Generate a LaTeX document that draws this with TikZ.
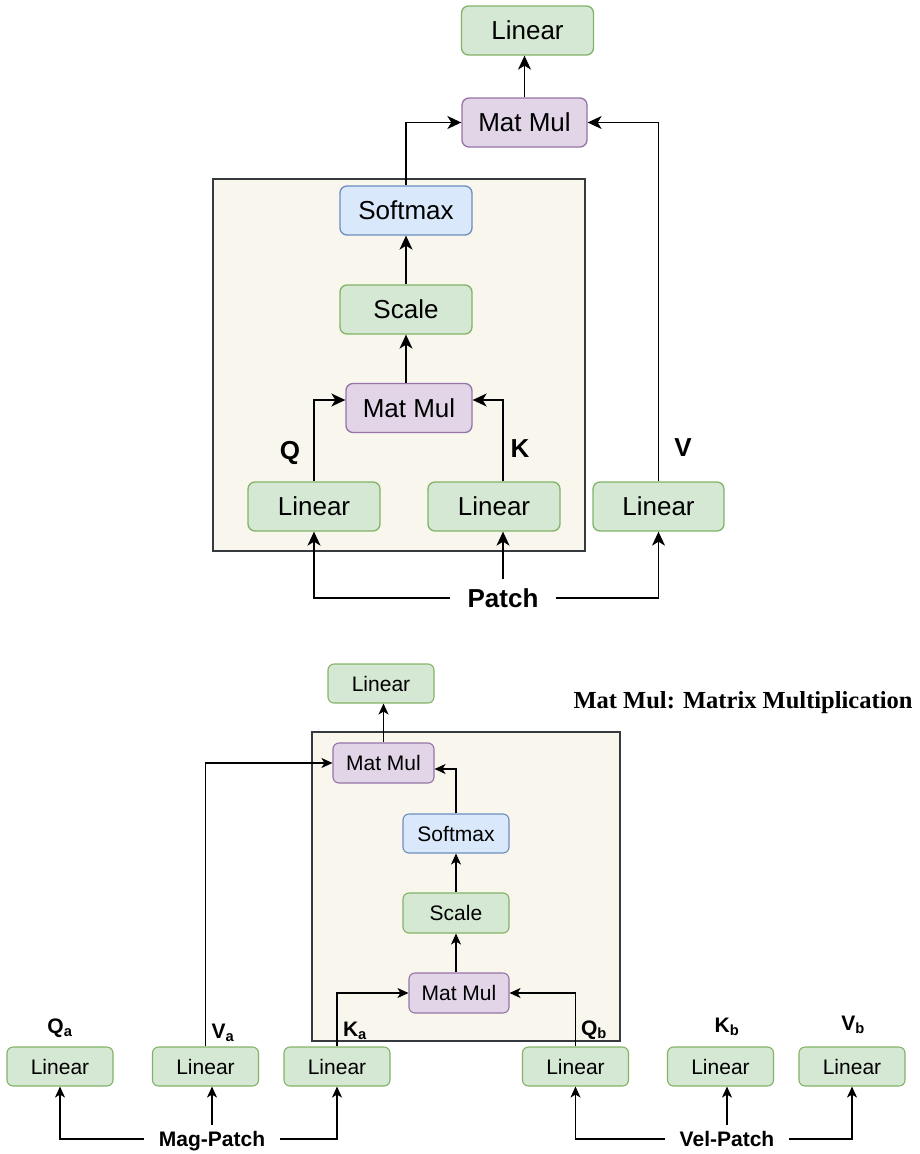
\documentclass[tikz,border=0pt]{standalone}
\usepackage{fontspec}
\setmainfont{Liberation Sans}
\newfontfamily\titlefont{Liberation Serif}
\usetikzlibrary{arrows.meta, calc}

\definecolor{linfill}{HTML}{D5E8D4}
\definecolor{linline}{HTML}{82B366}
\definecolor{mulfill}{HTML}{E1D5E7}
\definecolor{mulline}{HTML}{9673A6}
\definecolor{softfill}{HTML}{DAE8FC}
\definecolor{softline}{HTML}{6C8EBF}
\definecolor{boxfill}{HTML}{F9F7ED}
\definecolor{boxline}{HTML}{36393D}

\begin{document}
\begin{tikzpicture}[
    x=1pt, y=-1pt,
    bigblock/.style={draw, rounded corners=7pt, line width=1.3pt, minimum width=132pt,
        minimum height=49pt, inner sep=0pt, font=\fontsize{26}{31}\selectfont},
    smallblock/.style={draw, rounded corners=6pt, line width=1.1pt, minimum width=106pt,
        minimum height=39pt, inner sep=0pt, font=\fontsize{21}{25}\selectfont},
    lin/.style={fill=linfill, draw=linline},
    mul/.style={fill=mulfill, draw=mulline},
    soft/.style={fill=softfill, draw=softline},
    biglabel/.style={font=\bfseries\fontsize{26}{31}\selectfont, inner sep=0pt, text depth=0pt},
    smalllabel/.style={font=\bfseries\fontsize{21}{25}\selectfont, inner sep=0pt, text depth=0pt},
    wire/.style={-{Stealth[length=14pt, width=13pt, inset=4pt]}, line width=1.5pt},
    thinwire/.style={-{Stealth[length=11pt, width=10pt, inset=3pt]}, line width=1.1pt}
]

    \useasboundingbox (0, 0) rectangle (920, 1154);

    %% ---------------- Upper attention block ----------------

    % Container
    \draw[fill=boxfill, draw=boxline, line width=1.4pt] (213, 179) rectangle (585, 551);

    % Blocks
    \node[bigblock, lin] (linTop) at (527.5, 30.5) {Linear};
    \node[bigblock, mul, minimum width=125pt] (mmTop) at (524.5, 122.5) {Mat Mul};
    \node[bigblock, soft] (softmax) at (406, 210.5) {Softmax};
    \node[bigblock, lin] (scale) at (406, 309.5) {Scale};
    \node[bigblock, mul, minimum width=126pt] (mmQK) at (409, 408) {Mat Mul};
    \node[bigblock, lin] (linQ) at (314, 506.5) {Linear};
    \node[bigblock, lin] (linK) at (494, 506.5) {Linear};
    \node[bigblock, lin, minimum width=131pt] (linV) at (658.5, 506.5) {Linear};

    % Labels
    \node[biglabel] (lblQ) at (290, 450) {Q};
    \node[biglabel] (lblK) at (520, 449) {K};
    \node[biglabel] (lblV) at (683, 448) {V};
    \node[biglabel, inner xsep=17pt, inner ysep=9pt] (patch) at (503, 598) {Patch};

    % Connections
    \draw[wire] (mmTop.north) -- (mmTop.north |- linTop.south);
    \draw[wire] (softmax.north) |- (mmTop.west);
    \draw[wire] (linV.north) |- (mmTop.east);
    \draw[wire] (scale.north) -- (softmax.south);
    \draw[wire] (mmQK.north -| scale.south) -- (scale.south);
    \draw[wire] (linQ.north) |- ([yshift=8pt]mmQK.west);
    \draw[wire] (linK.north -| patch.north) |- ([yshift=8pt]mmQK.east);
    \draw[wire] (patch.west) -| (linQ.south);
    \draw[wire] (patch.north) -- (patch.north |- linK.south);
    \draw[wire] (patch.east) -| (linV.south);

    %% ---------------- Lower cross-attention block ----------------

    % Container
    \draw[fill=boxfill, draw=boxline, line width=1.2pt] (312, 732) rectangle (620, 1041);

    % Note
    \node[font=\titlefont\bfseries\fontsize{24.5}{29}\selectfont, inner sep=0pt] (note) at (743, 703)
        {Mat Mul: Matrix Multiplication};

    % Blocks
    \node[smallblock, lin] (bLinTop) at (381, 683.5) {Linear};
    \node[smallblock, mul, minimum width=101pt, minimum height=40pt] (bMmTop) at (383.5, 763) {Mat Mul};
    \node[smallblock, soft] (bSoftmax) at (456, 833.5) {Softmax};
    \node[smallblock, lin, minimum height=40pt] (bScale) at (456, 913) {Scale};
    \node[smallblock, mul, minimum width=100pt, minimum height=40pt] (bMmQK) at (459, 993) {Mat Mul};

    \node[smallblock, lin] (linQa) at (60, 1066.5) {Linear};
    \node[smallblock, lin] (linVa) at (205.5, 1066.5) {Linear};
    \node[smallblock, lin] (linKa) at (337, 1066.5) {Linear};
    \node[smallblock, lin] (linQb) at (575.5, 1066.5) {Linear};
    \node[smallblock, lin] (linKb) at (720.5, 1066.5) {Linear};
    \node[smallblock, lin] (linVb) at (852, 1066.5) {Linear};

    % Labels
    \node[smalllabel] (lblQa) at (60, 1026) {Q\textsubscript{a}};
    \node[smalllabel] (lblVa) at (223, 1031) {V\textsubscript{a}};
    \node[smalllabel] (lblKa) at (355, 1029) {K\textsubscript{a}};
    \node[smalllabel] (lblQb) at (594, 1028) {Q\textsubscript{b}};
    \node[smalllabel] (lblKb) at (727, 1025) {K\textsubscript{b}};
    \node[smalllabel] (lblVb) at (853, 1023) {V\textsubscript{b}};
    \node[smalllabel, inner xsep=15pt, inner ysep=6pt] (magPatch) at (212, 1139) {Mag-Patch};
    \node[smalllabel, inner xsep=15pt, inner ysep=6pt] (velPatch) at (727, 1139) {Vel-Patch};

    % Connections
    \draw[thinwire] (bMmTop.north) -- (bMmTop.north |- bLinTop.south);
    \draw[thinwire] (linVa.north) |- (bMmTop.west);
    \draw[thinwire] (bSoftmax.north) |- ([yshift=-6pt]bMmTop.east);
    \draw[thinwire] (bScale.north) -- (bSoftmax.south);
    \draw[thinwire] (bMmQK.north -| bScale.south) -- (bScale.south);
    \draw[thinwire] (linKa.north) |- (bMmQK.west);
    \draw[thinwire] (linQb.north) |- (bMmQK.east);

    \draw[thinwire] (magPatch.west) -| (linQa.south);
    \draw[thinwire] (magPatch.north) -- (magPatch.north |- linVa.south);
    \draw[thinwire] (magPatch.east) -| (linKa.south);
    \draw[thinwire] (velPatch.west) -| (linQb.south);
    \draw[thinwire] (velPatch.north) -- (velPatch.north |- linKb.south);
    \draw[thinwire] (velPatch.east) -| (linVb.south);

\end{tikzpicture}
\end{document}
